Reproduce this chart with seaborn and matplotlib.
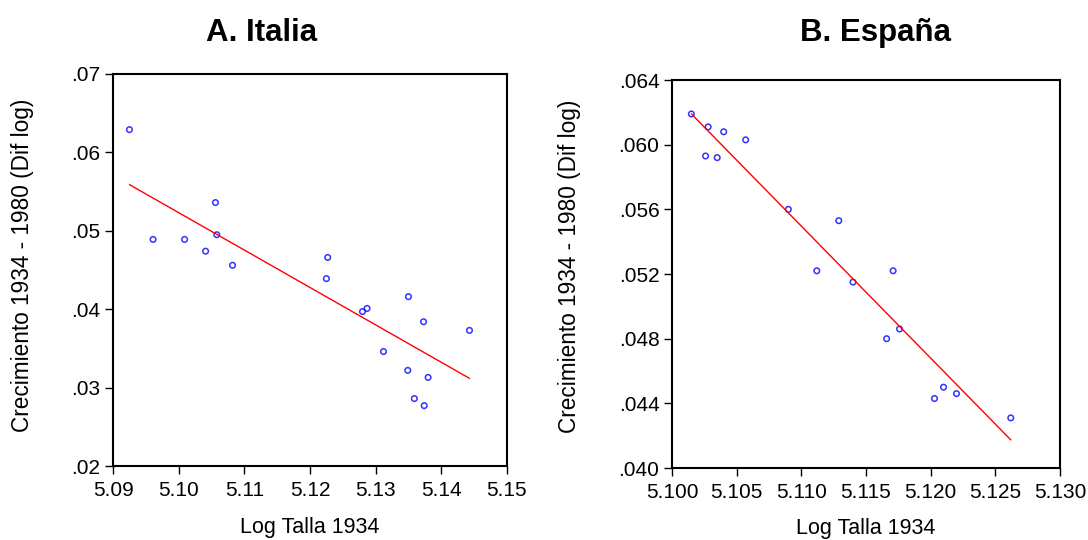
import numpy as np
import pandas as pd
import seaborn as sns
import matplotlib
matplotlib.use("Agg")
import matplotlib.pyplot as plt
from matplotlib.ticker import FuncFormatter

# Panel A: Italia
ita_talla = [5.0925, 5.0961, 5.1009, 5.1041, 5.1056, 5.1058, 5.1082, 5.1227, 5.1225,
             5.1280, 5.1287, 5.1312, 5.1350, 5.1349, 5.1373, 5.1380, 5.1359, 5.1374, 5.1443]
ita_crec = [0.0629, 0.0489, 0.0489, 0.0474, 0.0536, 0.0495, 0.0456, 0.0466, 0.0439,
            0.0397, 0.0401, 0.0346, 0.0416, 0.0322, 0.0384, 0.0313, 0.0286, 0.0277, 0.0373]

# Panel B: España
esp_talla = [5.1015, 5.1028, 5.1040, 5.1057, 5.1026, 5.1035, 5.1090, 5.1129, 5.1112,
             5.1140, 5.1171, 5.1176, 5.1166, 5.1203, 5.1210, 5.1220, 5.1262]
esp_crec = [0.0619, 0.0611, 0.0608, 0.0603, 0.0593, 0.0592, 0.0560, 0.0553, 0.0522,
            0.0515, 0.0522, 0.0486, 0.0480, 0.0443, 0.0450, 0.0446, 0.0431]

ita_xticks = [5.09, 5.10, 5.11, 5.12, 5.13, 5.14, 5.15]
ita_yticks = [0.02, 0.03, 0.04, 0.05, 0.06, 0.07]
esp_xticks = [5.100, 5.105, 5.110, 5.115, 5.120, 5.125, 5.130]
esp_yticks = [0.040, 0.044, 0.048, 0.052, 0.056, 0.060, 0.064]

sns.set_style("ticks")
plt.rcParams['font.family'] = ['Liberation Sans', 'DejaVu Sans']
plt.rcParams['text.color'] = 'black'
plt.rcParams['axes.labelcolor'] = 'black'

fig = plt.figure(figsize=(10.88, 5.4), dpi=100)
ax1 = fig.add_axes([0.1039, 0.137, 0.362, 0.726])
ax2 = fig.add_axes([0.6176, 0.1333, 0.3566, 0.7185])


def dot_fmt(decimals):
    def f(v, pos):
        s = f"{v:.{decimals}f}"
        return s[1:] if s.startswith("0") else s
    return FuncFormatter(f)


def draw_panel(ax, x, y, xticks, yticks, xdec, ydec, ylab_pos, xlab_y):
    df = pd.DataFrame({"talla": x, "crec": y})
    sns.regplot(data=df, x="talla", y="crec", ax=ax, ci=None,
                scatter_kws={"facecolors": "none", "edgecolors": "blue",
                             "s": 16, "linewidths": 1.1},
                line_kws={"color": "red", "linewidth": 1.0})
    ax.set_xlim(xticks[0], xticks[-1])
    ax.set_ylim(yticks[0], yticks[-1])
    ax.set_xticks(xticks)
    ax.set_yticks(yticks)
    ax.xaxis.set_major_formatter(FuncFormatter(lambda v, p: f"{v:.{xdec}f}"))
    ax.yaxis.set_major_formatter(dot_fmt(ydec))
    for sp in ax.spines.values():
        sp.set_visible(True)
        sp.set_color("black")
        sp.set_linewidth(1.5)
    ax.tick_params(direction="out", length=6, width=1, labelsize=15,
                   colors="black", pad=3)
    ax.tick_params(axis="x", pad=5)
    ax.set_xlabel("Log Talla 1934", fontsize=15.5, va="center")
    ax.set_ylabel("Crecimiento 1934 - 1980 (Dif log)", fontsize=16.3, va="center")
    ax.xaxis.set_label_coords(0.5, xlab_y)
    ax.yaxis.set_label_coords(*ylab_pos)


draw_panel(ax1, ita_talla, ita_crec, ita_xticks, ita_yticks, 2, 2, (-0.231, 0.511), -0.156)
draw_panel(ax2, esp_talla, esp_crec, esp_xticks, esp_yticks, 3, 3, (-0.265, 0.52), -0.157)

fig.text(262 / 1088, 1 - 41 / 540, "A. Italia", fontsize=22.5, fontweight="bold",
         ha="center", va="baseline")
fig.text(876 / 1088, 1 - 41 / 540, "B. España", fontsize=22.5, fontweight="bold",
         ha="center", va="baseline")

fig.savefig("out.png", dpi=100)
